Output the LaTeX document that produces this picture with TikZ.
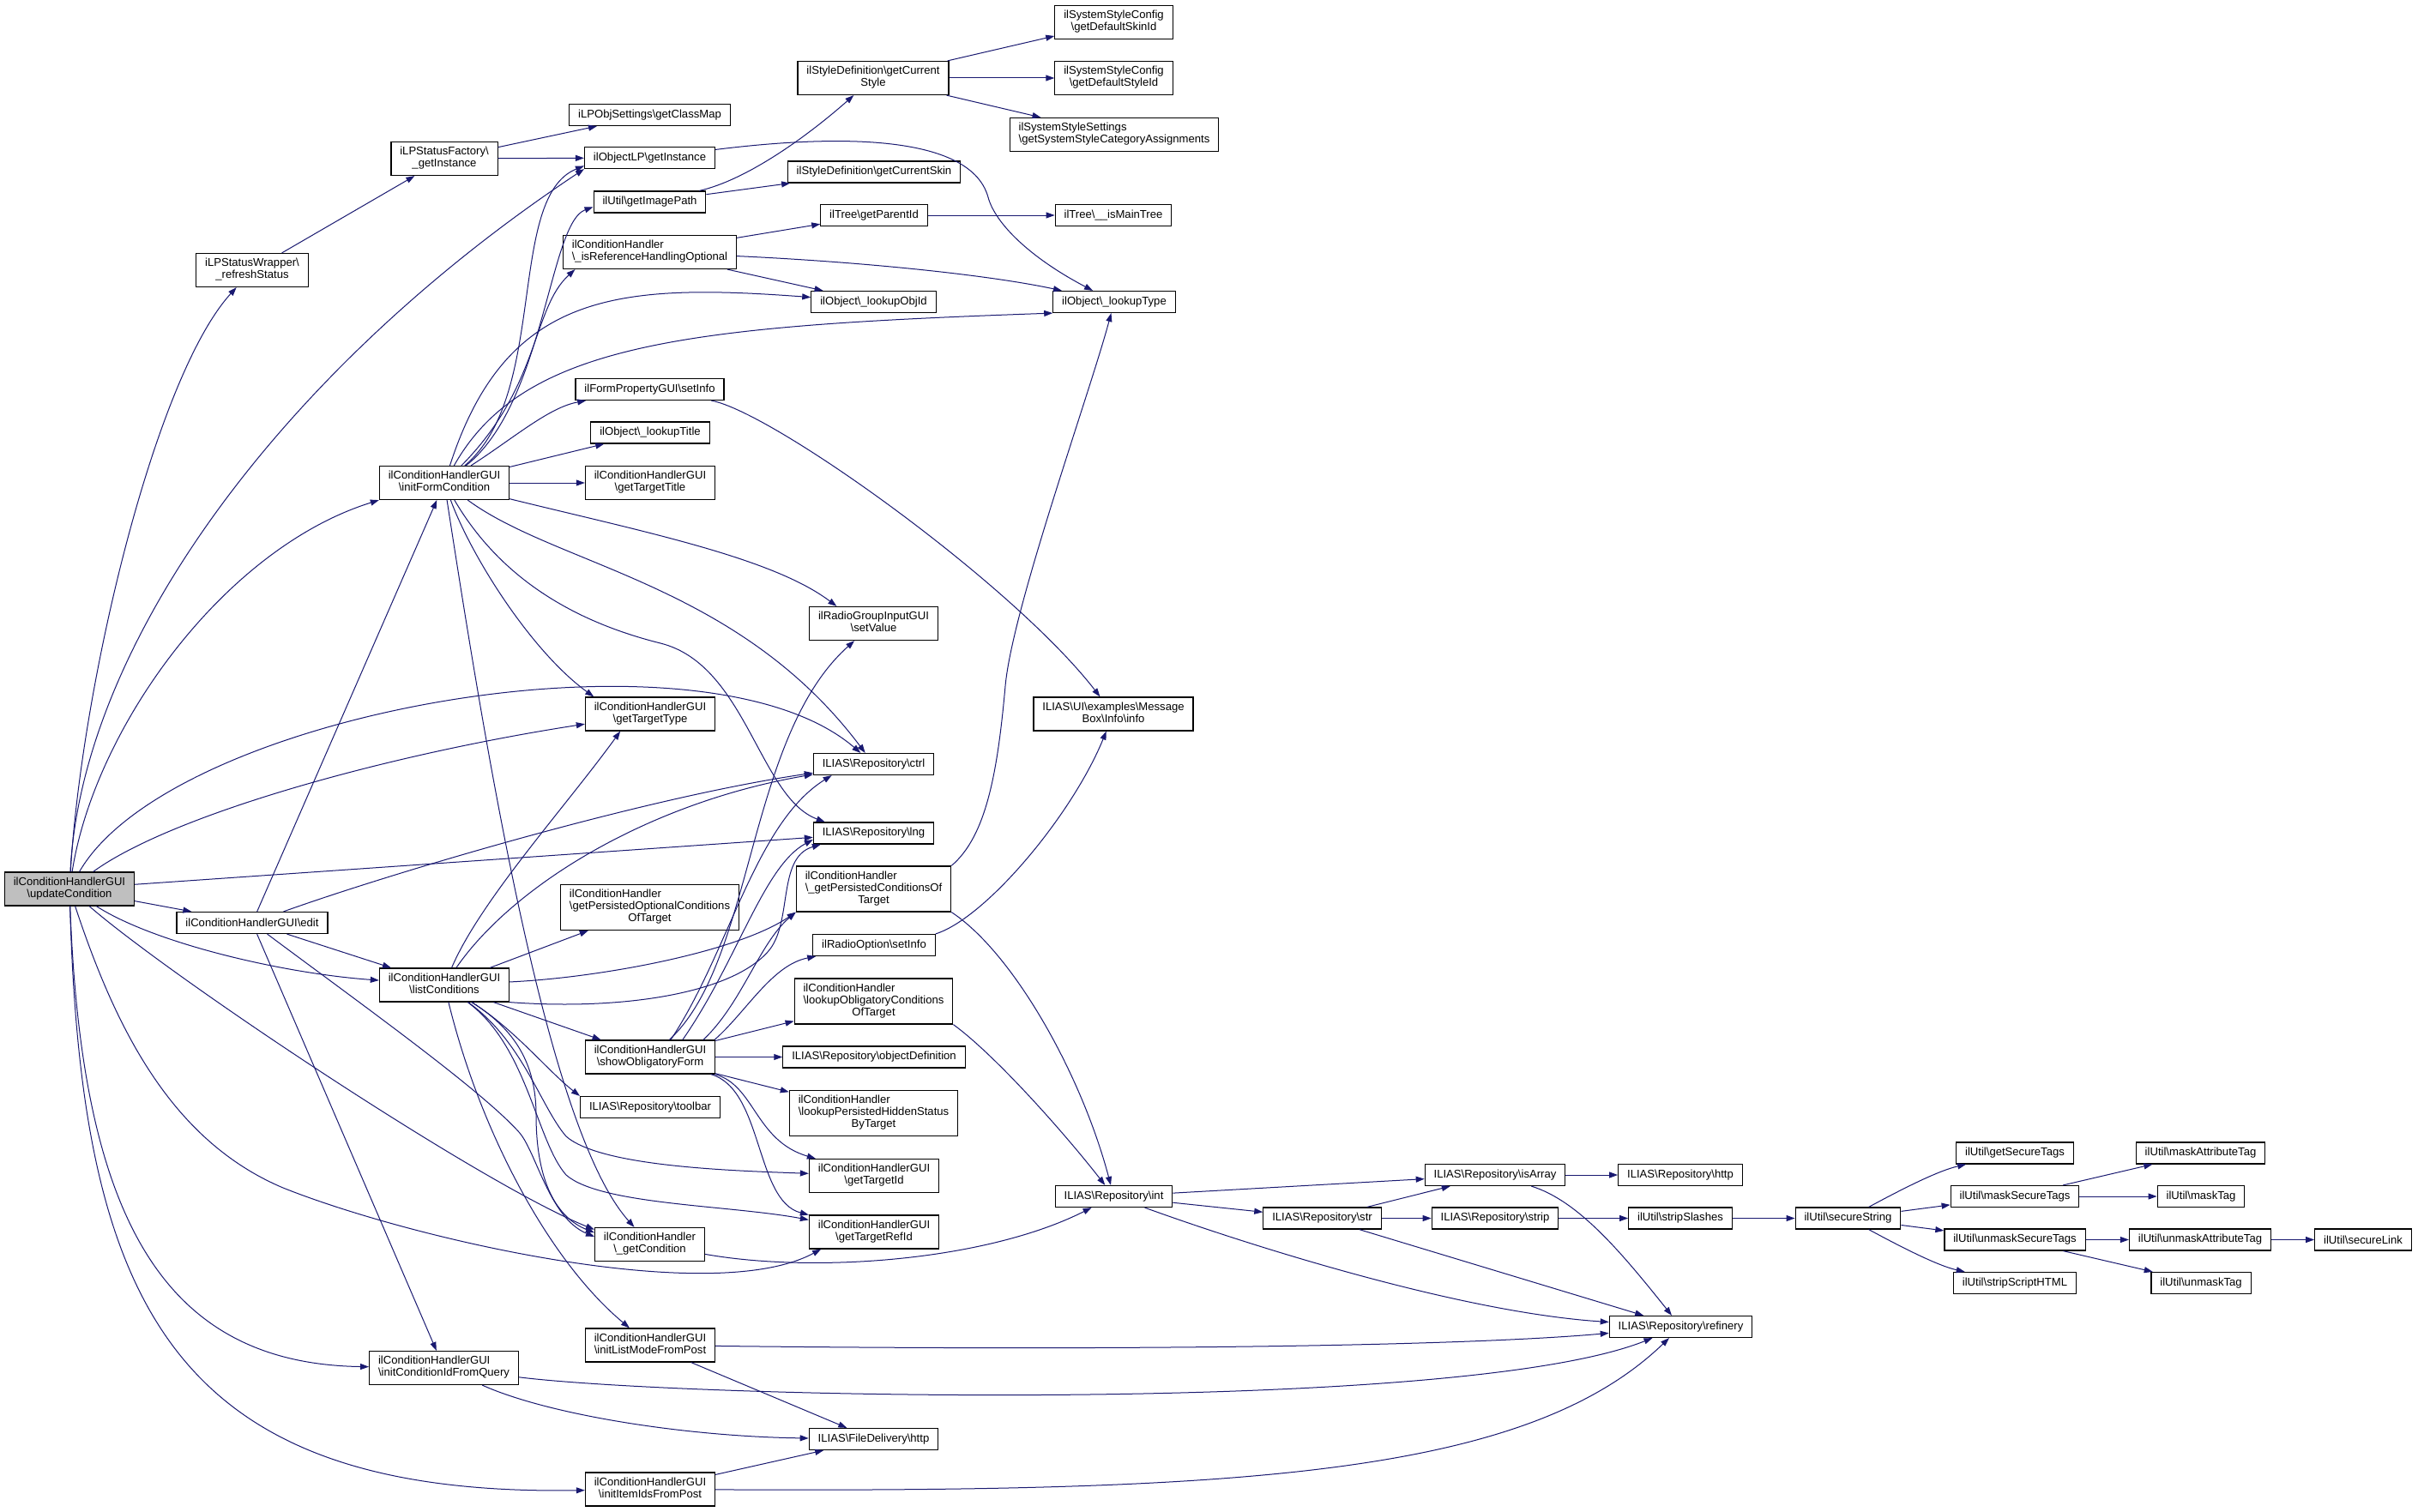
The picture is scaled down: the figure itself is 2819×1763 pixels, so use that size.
\documentclass[tikz,border=0pt]{standalone}
\usepackage{fontspec}
\setmainfont{Liberation Sans}
\usetikzlibrary{arrows.meta}
\definecolor{callColor}{HTML}{191970}
\definecolor{rootFill}{HTML}{BFBFBF}
\newcommand{\bsl}{\textbackslash}
\newcommand{\twoline}[2]{\begin{tabular}{@{}l@{}}#1\\\multicolumn{1}{@{}c@{}}{#2}\end{tabular}}
\newcommand{\threeline}[3]{\begin{tabular}{@{}l@{}}#1\\#2\\\multicolumn{1}{@{}c@{}}{#3}\end{tabular}}
\begin{document}
\begin{tikzpicture}[x=1pt, y=-1pt,
  fn/.style={draw=black, fill=white, line width=1.2pt, inner xsep=10.4pt, inner ysep=5.5pt,
    minimum height=25pt, font=\fontsize{13.1}{14}\selectfont},
  fnroot/.style={fn, fill=rootFill},
  call/.style={draw=callColor, line width=1pt, -{Triangle[length=10pt,width=7pt]}}]
% Canvas
\fill[white] (0,0) rectangle (2819,1763);
% Callers
\node[fnroot] (uc) at (81,1036.5) {\twoline{ilConditionHandlerGUI}{\bsl updateCondition}};
\node[fn] (rs) at (294,315) {\twoline{iLPStatusWrapper\bsl}{\_refreshStatus}};
\node[fn] (sf) at (518,185) {\twoline{iLPStatusFactory\bsl}{\_getInstance}};
\node[fn] (ifc) at (518,563) {\twoline{ilConditionHandlerGUI}{\bsl initFormCondition}};
\node[fn] (ed) at (294,1076) {ilConditionHandlerGUI\bsl edit};
\node[fn] (lc) at (518,1148.5) {\twoline{ilConditionHandlerGUI}{\bsl listConditions}};
\node[fn] (icq) at (517.5,1595) {\twoline{ilConditionHandlerGUI}{\bsl initConditionIdFromQuery}};
% Second column
\node[fn] (gcm) at (757.5,134) {iLPObjSettings\bsl getClassMap};
\node[fn] (olp) at (757.5,184) {ilObjectLP\bsl getInstance};
\node[fn] (gip) at (757.5,235.5) {ilUtil\bsl getImagePath};
\node[fn] (rho) at (757.5,294) {\twoline{ilConditionHandler}{\bsl\_isReferenceHandlingOptional}};
\node[fn] (fps) at (757.5,454) {ilFormPropertyGUI\bsl setInfo};
\node[fn] (lti) at (758,504.5) {ilObject\bsl\_lookupTitle};
\node[fn] (gtt) at (758,563) {\twoline{ilConditionHandlerGUI}{\bsl getTargetTitle}};
\node[fn] (gty) at (758,832.5) {\twoline{ilConditionHandlerGUI}{\bsl getTargetType}};
\node[fn] (gpo) at (757.5,1058) {\threeline{ilConditionHandler}{\bsl getPersistedOptionalConditions}{OfTarget}};
\node[fn] (sof) at (758,1232.5) {\twoline{ilConditionHandlerGUI}{\bsl showObligatoryForm}};
\node[fn] (tb) at (758,1291) {ILIAS\bsl Repository\bsl toolbar};
\node[fn] (gc) at (757.5,1451) {\twoline{ilConditionHandler}{\bsl\_getCondition}};
\node[fn] (ilm) at (758,1568.5) {\twoline{ilConditionHandlerGUI}{\bsl initListModeFromPost}};
\node[fn] (iip) at (758,1736.5) {\twoline{ilConditionHandlerGUI}{\bsl initItemIdsFromPost}};
% Third column
\node[fn] (gcs) at (1018,91) {\twoline{ilStyleDefinition\bsl getCurrent}{Style}};
\node[fn] (gsk) at (1019,200.5) {ilStyleDefinition\bsl getCurrentSkin};
\node[fn] (tgp) at (1019,251) {ilTree\bsl getParentId};
\node[fn] (loi) at (1018.5,352) {ilObject\bsl\_lookupObjId};
\node[fn] (rgv) at (1018.5,727) {\twoline{ilRadioGroupInputGUI}{\bsl setValue}};
\node[fn] (ctrl) at (1018.5,891) {ILIAS\bsl Repository\bsl ctrl};
\node[fn] (lng) at (1018.5,971.5) {ILIAS\bsl Repository\bsl lng};
\node[fn] (gpc) at (1018.5,1036.5) {\threeline{ilConditionHandler}{\bsl\_getPersistedConditionsOf}{Target}};
\node[fn] (ros) at (1019,1102) {ilRadioOption\bsl setInfo};
\node[fn] (loc) at (1018.5,1167.5) {\threeline{ilConditionHandler}{\bsl lookupObligatoryConditions}{OfTarget}};
\node[fn] (od) at (1019,1232.5) {ILIAS\bsl Repository\bsl objectDefinition};
\node[fn] (lph) at (1018.5,1298) {\threeline{ilConditionHandler}{\bsl lookupPersistedHiddenStatus}{ByTarget}};
\node[fn] (gti) at (1019,1371) {\twoline{ilConditionHandlerGUI}{\bsl getTargetId}};
\node[fn] (gtr) at (1019,1436.5) {\twoline{ilConditionHandlerGUI}{\bsl getTargetRefId}};
\node[fn] (fdh) at (1018.5,1678) {ILIAS\bsl FileDelivery\bsl http};
% Fourth column
\node[fn] (dsk) at (1298.5,26) {\twoline{ilSystemStyleConfig}{\bsl getDefaultSkinId}};
\node[fn] (dst) at (1298.5,91) {\twoline{ilSystemStyleConfig}{\bsl getDefaultStyleId}};
\node[fn] (sca) at (1299,157) {\twoline{ilSystemStyleSettings}{\bsl getSystemStyleCategoryAssignments}};
\node[fn] (tmt) at (1298,251) {ilTree\bsl\_\_isMainTree};
\node[fn] (lty) at (1299,352) {ilObject\bsl\_lookupType};
\node[fn] (mbi) at (1298,832.5) {\twoline{ILIAS\bsl UI\bsl examples\bsl Message}{Box\bsl Info\bsl info}};
\node[fn] (int) at (1298.5,1395) {ILIAS\bsl Repository\bsl int};
% Repository and util helpers
\node[fn] (str) at (1541.5,1420.5) {ILIAS\bsl Repository\bsl str};
\node[fn] (isa) at (1743,1370) {ILIAS\bsl Repository\bsl isArray};
\node[fn] (stp) at (1743,1420.5) {ILIAS\bsl Repository\bsl strip};
\node[fn] (rht) at (1959,1370) {ILIAS\bsl Repository\bsl http};
\node[fn] (ssl) at (1959,1420.5) {ilUtil\bsl stripSlashes};
\node[fn] (ref) at (1959.5,1547) {ILIAS\bsl Repository\bsl refinery};
\node[fn] (ss) at (2154.5,1420.5) {ilUtil\bsl secureString};
\node[fn] (gst) at (2349,1344.5) {ilUtil\bsl getSecureTags};
\node[fn] (mst) at (2349,1395) {ilUtil\bsl maskSecureTags};
\node[fn] (ust) at (2349,1445.5) {ilUtil\bsl unmaskSecureTags};
\node[fn] (ssh) at (2349,1496) {ilUtil\bsl stripScriptHTML};
\node[fn] (mat) at (2565.5,1344.5) {ilUtil\bsl maskAttributeTag};
\node[fn] (mt) at (2566,1395) {ilUtil\bsl maskTag};
\node[fn] (uat) at (2565,1445.5) {ilUtil\bsl unmaskAttributeTag};
\node[fn] (ut) at (2566,1496) {ilUtil\bsl unmaskTag};
\node[fn] (sl) at (2755,1445.5) {ilUtil\bsl secureLink};
% Calls from updateCondition
\draw[call] (uc) .. controls (95,800) and (180,440) .. (rs);
\draw[call] (uc) .. controls (95,750) and (330,430) .. (olp.south west);
\draw[call] (uc) .. controls (110,850) and (260,640) .. (ifc.south west);
\draw[call] (uc) .. controls (200,830) and (820,720) .. (ctrl);
\draw[call] (uc) .. controls (200,950) and (450,880) .. (gty);
\draw[call] (uc) -- (lng);
\draw[call] (uc) -- (ed);
\draw[call] (uc) .. controls (180,1100) and (330,1135) .. (lc);
\draw[call] (uc) .. controls (200,1140) and (560,1380) .. (gc.165);
\draw[call] (uc) .. controls (135,1200) and (200,1330) .. (330,1385) .. controls (480,1445) and (830,1525) .. (gtr.198);
\draw[call] (uc) .. controls (95,1420) and (190,1590) .. (icq);
\draw[call] (uc) .. controls (95,1520) and (200,1745) .. (iip);
% Learning progress
\draw[call] (rs) -- (sf);
\draw[call] (sf) -- (gcm);
\draw[call] (sf) -- (olp);
% Calls from initFormCondition
\draw[call] (ifc) .. controls (640,460) and (590,230) .. (olp.187);
\draw[call] (ifc) .. controls (635,470) and (640,260) .. (gip.185);
\draw[call] (ifc) .. controls (630,450) and (620,360) .. (rho.193);
\draw[call] (ifc) .. controls (590,340) and (720,330) .. (loi);
\draw[call] (ifc) .. controls (610,400) and (800,380) .. (lty.south west);
\draw[call] (ifc) .. controls (600,510) and (640,475) .. (fps.190);
\draw[call] (ifc) -- (lti);
\draw[call] (ifc) -- (gtt);
\draw[call] (ifc) .. controls (550,650) and (620,760) .. (gty.163);
\draw[call] (ifc) .. controls (750,620) and (900,650) .. (rgv.155);
\draw[call] (ifc) .. controls (650,660) and (860,680) .. (ctrl);
\draw[call] (ifc) .. controls (575,660) and (650,720) .. (770,750) .. controls (870,775) and (885,930) .. (lng.167);
\draw[call] (ifc) .. controls (570,900) and (640,1320) .. (gc);
% Calls from edit
\draw[call] (ed) -- (ifc);
\draw[call] (ed) .. controls (450,1020) and (750,930) .. (ctrl);
\draw[call] (ed) -- (lc);
\draw[call] (ed) -- (icq);
\draw[call] (ed) .. controls (420,1170) and (560,1270) .. (605,1320) .. controls (625,1342) and (640,1420) .. (gc.172);
% Calls from listConditions
\draw[call] (lc) .. controls (560,1050) and (660,940) .. (gty.210);
\draw[call] (lc) .. controls (600,1030) and (760,935) .. (ctrl);
\draw[call] (lc.south east) .. controls (720,1178) and (850,1160) .. (895,1110) .. controls (925,1077) and (905,1000) .. (lng.192);
\draw[call] (lc) -- (gpo);
\draw[call] (lc) .. controls (700,1140) and (860,1110) .. (gpc.south west);
\draw[call] (lc) -- (sof);
\draw[call] (lc) .. controls (600,1200) and (640,1250) .. (tb.north west);
\draw[call] (lc) .. controls (610,1215) and (630,1290) .. (660,1325) .. controls (700,1360) and (850,1365) .. (gti);
\draw[call] (lc) .. controls (615,1220) and (625,1330) .. (660,1370) .. controls (700,1405) and (850,1405) .. (gtr);
\draw[call] (lc) .. controls (600,1200) and (625,1240) .. (625,1300) .. controls (625,1380) and (650,1420) .. (gc.168);
\draw[call] (lc) .. controls (560,1320) and (640,1470) .. (ilm);
% Calls from showObligatoryForm
\draw[call] (sof) -- (od);
\draw[call] (sof) -- (loc);
\draw[call] (sof) -- (lph);
\draw[call] (sof) .. controls (880,1265) and (880,1330) .. (gti);
\draw[call] (sof) .. controls (890,1270) and (880,1400) .. (gtr);
\draw[call] (sof.15) .. controls (870,1180) and (900,1125) .. (ros);
\draw[call] (sof.18) .. controls (865,1170) and (885,1100) .. (gpc.south west);
\draw[call] (sof.28) .. controls (860,1120) and (890,1010) .. (lng.186);
\draw[call] (sof.40) .. controls (850,1110) and (880,960) .. (ctrl.195);
\draw[call] (sof.42) .. controls (880,1120) and (870,860) .. (rgv);
% Condition handler and info boxes
\draw[call] (gpc.north east) .. controls (1150,975) and (1163,900) .. (1172,800) .. controls (1180,710) and (1270,460) .. (lty);
\draw[call] (gpc.south east) .. controls (1180,1110) and (1260,1250) .. (int);
\draw[call] (loc.south east) .. controls (1160,1230) and (1240,1320) .. (int);
\draw[call] (gc) .. controls (950,1485) and (1150,1470) .. (int);
\draw[call] (fps) .. controls (900,480) and (1180,680) .. (mbi);
\draw[call] (ros.north east) .. controls (1150,1070) and (1250,950) .. (mbi);
% Objects, trees and styles
\draw[call] (rho) -- (tgp);
\draw[call] (rho) .. controls (1000,305) and (1150,320) .. (lty);
\draw[call] (rho) -- (loi);
\draw[call] (gip) -- (gsk);
\draw[call] (gip) .. controls (870,210) and (940,160) .. (gcs);
\draw[call] (olp) .. controls (950,160) and (1130,150) .. (1152,230) .. controls (1160,260) and (1200,300) .. (lty);
\draw[call] (gcs) -- (dsk);
\draw[call] (gcs) -- (dst);
\draw[call] (gcs) -- (sca);
\draw[call] (tgp) -- (tmt);
% Repository helpers
\draw[call] (int) -- (isa);
\draw[call] (int) -- (str);
\draw[call] (int) .. controls (1450,1450) and (1700,1530) .. (ref);
\draw[call] (str) -- (isa);
\draw[call] (str) -- (stp);
\draw[call] (str) -- (ref);
\draw[call] (isa) -- (rht);
\draw[call] (isa) .. controls (1840,1400) and (1890,1460) .. (ref);
\draw[call] (stp) -- (ssl);
\draw[call] (ssl) -- (ss);
\draw[call] (ss) .. controls (2220,1385) and (2260,1365) .. (gst);
\draw[call] (ss) -- (mst);
\draw[call] (ss) -- (ust);
\draw[call] (ss) .. controls (2220,1456) and (2260,1476) .. (ssh);
\draw[call] (mst) -- (mat);
\draw[call] (mst) -- (mt);
\draw[call] (ust) -- (uat);
\draw[call] (ust) -- (ut);
\draw[call] (uat) -- (sl);
% Post and query readers
\draw[call] (ilm) .. controls (1300,1575) and (1700,1570) .. (ref);
\draw[call] (ilm) -- (fdh);
\draw[call] (icq) .. controls (800,1630) and (1700,1650) .. (ref);
\draw[call] (icq) .. controls (640,1650) and (800,1675) .. (fdh);
\draw[call] (iip) -- (fdh);
\draw[call] (iip) .. controls (1450,1740) and (1780,1720) .. (ref);
\end{tikzpicture}
\end{document}
